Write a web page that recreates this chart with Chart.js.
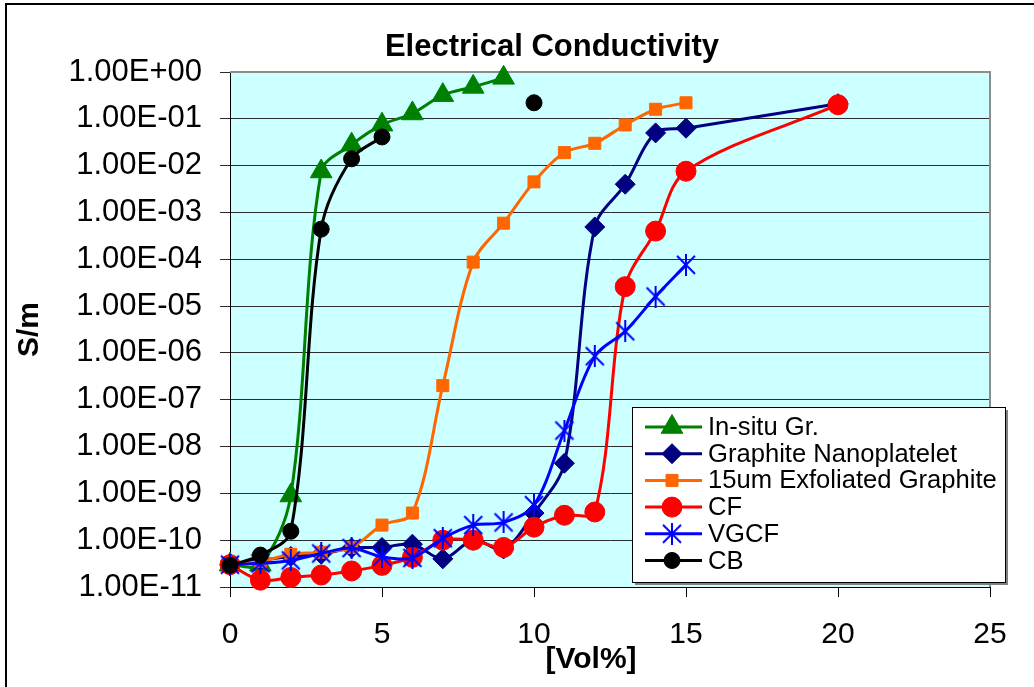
<!DOCTYPE html>
<html>
<head>
<meta charset="utf-8">
<title>Electrical Conductivity</title>
<script src="https://cdn.jsdelivr.net/npm/chart.js@4.4.1/dist/chart.umd.min.js"></script>
<style>
  html, body { margin: 0; padding: 0; background: #fff; }
  canvas { display: block; }
</style>
</head>
<body>
<canvas id="condChart" width="1034" height="687"></canvas>
<script>
// --- data (S/m vs vol%) ---
const seriesNames = ['In-situ Gr.', 'Graphite Nanoplatelet', '15um Exfoliated Graphite', 'CF', 'VGCF', 'CB'];

const volInsitu = [0, 1, 2, 3, 4, 5, 6, 7, 8, 9];
const condInsitu = [3e-11, 3e-11, 9e-10, 7.5e-3, 2.8e-2, 7.5e-2, 1.3e-1, 3.2e-1, 4.8e-1, 7.5e-1];

const volGnp = [0, 1, 2, 3, 4, 5, 6, 7, 8, 9, 10, 11, 12, 13, 14, 15, 20];
const condGnp = [3e-11, 3.7e-11, 4.5e-11, 5e-11, 6.8e-11, 7e-11, 8.2e-11, 4e-11, 1e-10, 6.5e-11, 3.8e-10, 4.4e-9, 4.9e-4, 4e-3, 5e-2, 6.3e-2, 2.1e-1];

const volExf = [0, 1, 2, 3, 4, 5, 6, 7, 8, 9, 10, 11, 12, 13, 14, 15];
const condExf = [3e-11, 3.5e-11, 5e-11, 5.5e-11, 7e-11, 2.1e-10, 3.8e-10, 2e-7, 8.7e-5, 5.9e-4, 4.5e-3, 1.9e-2, 3e-2, 7.4e-2, 1.6e-1, 2.2e-1];

const volCf = [0, 1, 2, 3, 4, 5, 6, 7, 8, 9, 10, 11, 12, 13, 14, 15, 20];
const condCf = [3e-11, 1.4e-11, 1.6e-11, 1.8e-11, 2.2e-11, 2.9e-11, 4.3e-11, 1e-10, 1e-10, 7e-11, 1.9e-10, 3.4e-10, 4e-10, 2.6e-5, 4e-4, 7.6e-3, 2e-1];

const volVgcf = [0, 1, 2, 3, 4, 5, 6, 7, 8, 9, 10, 11, 12, 13, 14, 15];
const condVgcf = [3e-11, 3.2e-11, 3.7e-11, 5.2e-11, 6.8e-11, 4.4e-11, 4.2e-11, 1.1e-10, 2.1e-10, 2.4e-10, 5.6e-10, 2.2e-8, 8.5e-7, 2.9e-6, 1.6e-5, 7.6e-5];

// null = break in the line (the 10 vol% point stands alone)
const volCb = [0, 1, 2, 3, 4, 5, 7.5, 10];
const condCb = [2.9e-11, 4.8e-11, 1.55e-10, 4.4e-4, 1.4e-2, 4.1e-2, null, 2.2e-1];

const yTicks = [1e-11, 1e-10, 1e-9, 1e-8, 1e-7, 1e-6, 1e-5, 1e-4, 1e-3, 1e-2, 1e-1, 1];
const xTicks = [0, 5, 10, 15, 20, 25];

const FONT = "'Liberation Sans', Arial, sans-serif";

const pairs = (xs, ys) => xs.map((x, i) => ({ x, y: ys[i] }));

// Excel style "1.00E-11"
function sci(v) {
  const [m, e] = v.toExponential(2).split('e');
  const n = parseInt(e, 10);
  return m + 'E' + (n < 0 ? '-' : '+') + String(Math.abs(n)).padStart(2, '0');
}

// asterisk marker like Excel (X + vertical bar)
function makeAsterisk(color, size) {
  const c = document.createElement('canvas');
  c.width = size; c.height = size;
  const g = c.getContext('2d');
  g.strokeStyle = color;
  g.lineWidth = 2;
  const m = size / 2, a = 2, b = size - 2;
  g.beginPath();
  g.moveTo(a, a); g.lineTo(b, b);
  g.moveTo(b, a); g.lineTo(a, b);
  g.moveTo(m, 0); g.lineTo(m, size);
  g.stroke();
  return c;
}
const asterisk = makeAsterisk('#0000FF', 22);

const styles = [
  { color: '#008000', point: 'triangle', r: 12.5 },
  { color: '#000080', point: 'rectRot', r: 10 },
  { color: '#FF6600', point: 'rect', r: 8.5 },
  { color: '#FF0000', point: 'circle', r: 10 },
  { color: '#0000FF', point: asterisk, r: 11 },
  { color: '#000000', point: 'circle', r: 8 }
];

const seriesData = [
  pairs(volInsitu, condInsitu),
  pairs(volGnp, condGnp),
  pairs(volExf, condExf),
  pairs(volCf, condCf),
  pairs(volVgcf, condVgcf),
  pairs(volCb, condCb)
];

const datasets = seriesNames.map((name, i) => ({
  label: name,
  data: seriesData[i],
  borderColor: styles[i].color,
  backgroundColor: styles[i].color,
  pointStyle: styles[i].point,
  pointRadius: styles[i].r,
  pointHoverRadius: styles[i].r,
  pointBorderWidth: 1,
  borderWidth: 3,
  tension: 0.33,
  spanGaps: false,
  clip: false,
  order: seriesNames.length - i // later series drawn on top
}));

// plot background + outer frame
const backdrop = {
  id: 'backdrop',
  beforeDraw(chart) {
    const { ctx, chartArea: a } = chart;
    ctx.save();
    ctx.fillStyle = '#fff';
    ctx.fillRect(0, 0, chart.width, chart.height);
    ctx.strokeStyle = '#000';
    ctx.lineWidth = 2;
    ctx.strokeRect(6, 4, chart.width + 20, chart.height + 20);
    ctx.fillStyle = '#CCFFFF';
    ctx.fillRect(a.left, a.top, a.right - a.left, a.bottom - a.top);
    ctx.restore();
  },
  beforeDatasetsDraw(chart) {
    const { ctx, chartArea: a } = chart;
    ctx.save();
    ctx.strokeStyle = '#8c8c8c';
    ctx.lineWidth = 2;
    ctx.beginPath();
    ctx.moveTo(a.left, a.top);
    ctx.lineTo(a.right, a.top);
    ctx.lineTo(a.right, a.bottom);
    ctx.stroke();
    ctx.restore();
  }
};

function drawMarker(ctx, st, x, y) {
  ctx.fillStyle = st.color;
  ctx.strokeStyle = st.color;
  ctx.lineWidth = 1;
  const r = st.r;
  ctx.beginPath();
  if (st.point === 'triangle') {
    ctx.moveTo(x, y - r);
    ctx.lineTo(x + Math.sin(2 * Math.PI / 3) * r, y + r / 2);
    ctx.lineTo(x - Math.sin(2 * Math.PI / 3) * r, y + r / 2);
    ctx.closePath();
  } else if (st.point === 'rectRot') {
    ctx.moveTo(x, y - r); ctx.lineTo(x + r, y); ctx.lineTo(x, y + r); ctx.lineTo(x - r, y);
    ctx.closePath();
  } else if (st.point === 'rect') {
    const s = r * Math.SQRT1_2;
    ctx.rect(x - s, y - s, 2 * s, 2 * s);
  } else if (st.point === 'circle') {
    ctx.arc(x, y, r, 0, Math.PI * 2);
  } else {
    ctx.drawImage(st.point, x - st.point.width / 2, y - st.point.height / 2);
    return;
  }
  ctx.fill();
  ctx.stroke();
}

// legend box inside the plot, bottom right
const legendBox = {
  id: 'legendBox',
  afterDraw(chart) {
    const ctx = chart.ctx;
    const a = chart.chartArea;
    const w = 373, h = 175;
    const x0 = a.right + 15 - w, y0 = a.bottom - 5 - h;
    ctx.save();
    ctx.fillStyle = '#808080';
    ctx.fillRect(x0 + 3, y0 + 3, w, h);
    ctx.fillStyle = '#fff';
    ctx.fillRect(x0, y0, w, h);
    ctx.strokeStyle = '#000';
    ctx.lineWidth = 1;
    ctx.strokeRect(x0 + 0.5, y0 + 0.5, w, h);
    ctx.font = '25.6px ' + FONT;
    ctx.textBaseline = 'middle';
    seriesNames.forEach((name, i) => {
      const y = y0 + 20 + i * 26.7;
      ctx.strokeStyle = styles[i].color;
      ctx.lineWidth = 3;
      ctx.beginPath();
      ctx.moveTo(x0 + 13, y);
      ctx.lineTo(x0 + 70, y);
      ctx.stroke();
      drawMarker(ctx, styles[i], x0 + 40, y);
      ctx.fillStyle = '#000';
      ctx.fillText(name, x0 + 76, y + 1);
    });
    ctx.restore();
  }
};

// chart title and x axis title, placed where the original has them
const titles = {
  id: 'titles',
  afterDraw(chart) {
    const ctx = chart.ctx;
    ctx.save();
    ctx.fillStyle = '#000';
    ctx.textAlign = 'center';
    ctx.textBaseline = 'alphabetic';
    ctx.font = 'bold 31px ' + FONT;
    ctx.fillText('Electrical Conductivity', 552, 56);
    ctx.font = 'bold 30px ' + FONT;
    ctx.textBaseline = 'middle';
    ctx.fillText('[Vol%]', 591, 660);
    ctx.restore();
  }
};

new Chart(document.getElementById('condChart'), {
  type: 'line',
  data: { datasets },
  plugins: [backdrop, legendBox, titles],
  options: {
    responsive: false,
    animation: false,
    events: [],
    layout: { padding: { left: 0, right: 44, top: 72, bottom: 0 } },
    plugins: {
      legend: { display: false },
      tooltip: { enabled: false },
      title: { display: false }
    },
    scales: {
      x: {
        type: 'linear',
        min: 0,
        max: 25,
        afterFit: s => { s.height = 100; },
        afterBuildTicks: s => { s.ticks = xTicks.map(v => ({ value: v })); },
        ticks: {
          color: '#000',
          padding: 20,
          autoSkip: false,
          maxRotation: 0,
          font: { family: FONT, size: 30 }
        },
        grid: { drawOnChartArea: false, drawTicks: true, tickLength: 10, color: '#000', lineWidth: 1 },
        border: { display: true, color: '#000', width: 1 }
      },
      y: {
        type: 'logarithmic',
        min: 1e-11,
        max: 1,
        afterFit: s => { s.width = 230; },
        afterBuildTicks: s => { s.ticks = yTicks.map(v => ({ value: v })); },
        ticks: {
          color: '#000',
          padding: 18,
          autoSkip: false,
          callback: v => sci(v),
          font: { family: FONT, size: 31 }
        },
        grid: { color: '#2b2b2b', lineWidth: 1, tickLength: 10, drawTicks: true },
        border: { display: true, color: '#000', width: 1 },
        title: {
          display: true,
          text: 'S/m',
          color: '#000',
          font: { family: FONT, size: 30, weight: 'bold', lineHeight: 1.2 },
          padding: { top: 12, bottom: 0 }
        }
      }
    }
  }
});
</script>
</body>
</html>
